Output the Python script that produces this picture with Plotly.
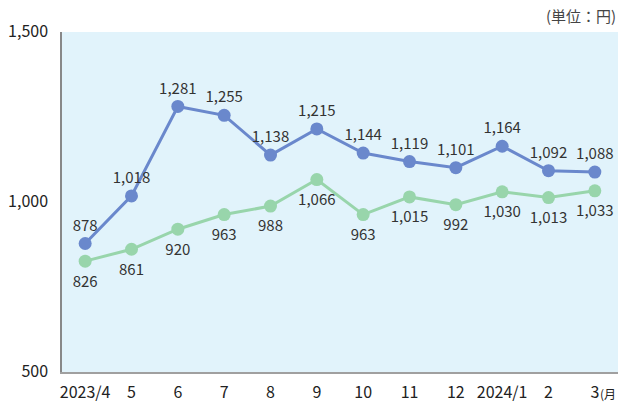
import plotly.graph_objects as go

months = ["2023/4", "5", "6", "7", "8", "9", "10", "11", "12", "2024/1", "2", "3"]
series_a = [878, 1018, 1281, 1255, 1138, 1215, 1144, 1119, 1101, 1164, 1092, 1088]
series_b = [826, 861, 920, 963, 988, 1066, 963, 1015, 992, 1030, 1013, 1033]
y_ticks = [500, 1000, 1500]

FONT = "Noto Sans CJK JP"
blue = "#6a88cc"
green = "#98d5ab"
xs = list(range(len(months)))

fig = go.Figure()
fig.add_trace(go.Scatter(
    x=xs, y=series_a, mode="lines+markers+text",
    line=dict(color=blue, width=3), marker=dict(color=blue, size=13),
    text=[f"{v:,}" for v in series_a], textposition="top center",
    textfont=dict(size=15, color="#333333", family=FONT), cliponaxis=False,
))
fig.add_trace(go.Scatter(
    x=xs, y=series_b, mode="lines+markers",
    line=dict(color=green, width=3), marker=dict(color=green, size=13),
    cliponaxis=False,
))
# labels for the green series (transparent larger marker gives the label gap)
fig.add_trace(go.Scatter(
    x=xs, y=series_b, mode="markers+text",
    marker=dict(color="rgba(0,0,0,0)", size=21),
    text=[f"{v:,}" for v in series_b], textposition="bottom center",
    textfont=dict(size=15, color="#333333", family=FONT), cliponaxis=False,
    hoverinfo="skip",
))

fig.update_layout(
    width=620, height=405,
    margin=dict(l=62, r=2, t=32, b=21),
    paper_bgcolor="white", plot_bgcolor="#e1f3fb",
    showlegend=False,
    font=dict(family=FONT, size=15, color="#333333"),
    xaxis=dict(
        tickmode="array", tickvals=xs, ticktext=months,
        range=[-0.5, 11.5], showgrid=False, zeroline=False, showline=True,
        linecolor="#a0a0a0", linewidth=1.5,
        ticks="", tickfont=dict(size=16, color="#222222"), fixedrange=True,
        ticklabelstandoff=5,
    ),
    yaxis=dict(
        range=[500, 1500], tickvals=y_ticks, tickformat=",",
        showgrid=False, zeroline=False, showline=True, linecolor="#888888",
        linewidth=1.5, ticks="", tickfont=dict(size=16, color="#222222"),
        ticklabelstandoff=9, ticklabelshift=-1,
    ),
    annotations=[
        dict(text="(単位：円)", xref="paper", yref="paper", x=1.0, y=1.0,
             xanchor="right", yanchor="middle", yshift=17, showarrow=False,
             font=dict(size=15, color="#444444", family=FONT)),
        dict(text="(月", xref="x", yref="paper", x=11, y=0,
             xanchor="left", yanchor="top", xshift=3, yshift=-11, showarrow=False,
             font=dict(size=12, color="#222222", family=FONT)),
    ],
)

fig.write_html(
    "out.html",
    config={"displayModeBar": False},
    post_script=(
        "document.body.style.margin='0';"
        "var gd=document.querySelector('.plotly-graph-div');"
        "gd.style.position='fixed';gd.style.left='0';gd.style.top='0';"
    ),
)
